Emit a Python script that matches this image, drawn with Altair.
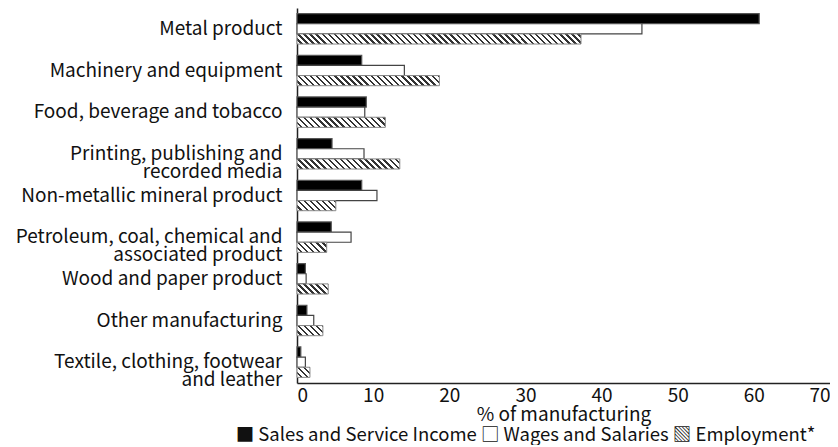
import altair as alt
import pandas as pd

categories = [
    "Metal product",
    "Machinery and equipment",
    "Food, beverage and tobacco",
    "Printing, publishing and\nrecorded media",
    "Non-metallic mineral product",
    "Petroleum, coal, chemical and\nassociated product",
    "Wood and paper product",
    "Other manufacturing",
    "Textile, clothing, footwear\nand leather",
]
sales = [60.7, 8.5, 9.1, 4.6, 8.5, 4.5, 1.1, 1.3, 0.5]
wages = [45.3, 14.1, 8.9, 8.8, 10.5, 7.1, 1.2, 2.2, 1.1]
employment = [37.3, 18.7, 11.6, 13.5, 5.1, 3.9, 4.1, 3.4, 1.7]
series = ["Sales and Service Income", "Wages and Salaries", "Employment*"]
x_ticks = [0, 10, 20, 30, 40, 50, 60, 70]
x_title = "% of manufacturing"
legend_text = "\u25A0 Sales and Service Income \u25A1 Wages and Salaries \u25A7 Employment*"

FONT = "Noto Sans CJK JP"
FS = 19
TOTAL_W, TOTAL_H = 822, 437
W_EST, H_EST = 525, 369  # approximate plot size, used for hatch geometry only
PAD_IN, PAD_OUT = 0.27, 0.135
bar_h = H_EST / 9 * (1 - PAD_IN) / 3

rows = []
for c, s, w, e in zip(categories, sales, wages, employment):
    rows.append({"category": c, "series": series[0], "value": s})
    rows.append({"category": c, "series": series[1], "value": w})
df = pd.DataFrame(rows)


def hatch(value, period=6.0, dark=2.4, ink="#333333"):
    wpx = value * W_EST / 70.0
    L = wpx + bar_h
    r = bar_h / wpx
    p = (1 + r) / (1 + r * r)
    stops = []
    k = 0
    while k * period < L:
        s0 = k * period
        a = min((s0 + period - dark) / L, 1.0)
        b = min((s0 + period) / L, 1.0)
        stops += [
            {"offset": round(s0 / L, 5), "color": "#ffffff"},
            {"offset": round(a, 5), "color": "#ffffff"},
            {"offset": round(a, 5), "color": ink},
            {"offset": round(b, 5), "color": ink},
        ]
        k += 1
    return {"gradient": "linear", "x1": 0, "y1": 1, "x2": p, "y2": 1 - p * r, "stops": stops}


x_enc = alt.X(
    "value:Q",
    scale=alt.Scale(domain=[0, 70], nice=False),
    axis=alt.Axis(values=x_ticks, title=x_title, grid=False, ticks=False, labelPadding=3,
                  titlePadding=0),
)
y_enc = alt.Y(
    "category:N",
    scale=alt.Scale(domain=categories, paddingInner=PAD_IN, paddingOuter=PAD_OUT),
    axis=alt.Axis(title=None, ticks=False, labelPadding=15, labelLimit=500,
                  labelExpr="split(datum.label, '\\n')", labelLineHeight=18),
)
yo_enc = alt.YOffset("series:N", scale=alt.Scale(domain=series))

base = alt.Chart(df).mark_bar(strokeWidth=1.2).encode(
    x=x_enc,
    y=y_enc,
    yOffset=yo_enc,
    fill=alt.Fill("series:N", scale=alt.Scale(domain=series[:2], range=["#000000", "#ffffff"]), legend=None),
    stroke=alt.Stroke("series:N", scale=alt.Scale(domain=series[:2], range=["#555555", "#444444"]), legend=None),
)

layers = [base]
for c, e in zip(categories, employment):
    d = pd.DataFrame([{"category": c, "series": series[2], "value": e}])
    layers.append(
        alt.Chart(d).mark_bar(fill=hatch(e), stroke="#888888", strokeWidth=1).encode(
            x=x_enc, y=y_enc, yOffset=yo_enc
        )
    )

chart = alt.layer(*layers).properties(
    width=TOTAL_W,
    height=TOTAL_H,
    autosize=alt.AutoSizeParams(type="fit", contains="padding"),
    padding={"left": 7, "top": 0, "right": 0, "bottom": 0},
    title=alt.TitleParams(legend_text, orient="bottom", anchor="middle", fontSize=18.5,
                          fontWeight="normal", font=FONT, color="#111111", dx=-38, offset=2),
).configure_view(stroke=None).configure_axis(
    labelFont=FONT, titleFont=FONT, labelFontSize=FS, titleFontSize=FS,
    titleFontWeight="normal", labelColor="#111111", titleColor="#111111",
    domainColor="#222222", domainWidth=1.5,
)

chart.save("out.html", embed_options={"renderer": "svg", "actions": False})
